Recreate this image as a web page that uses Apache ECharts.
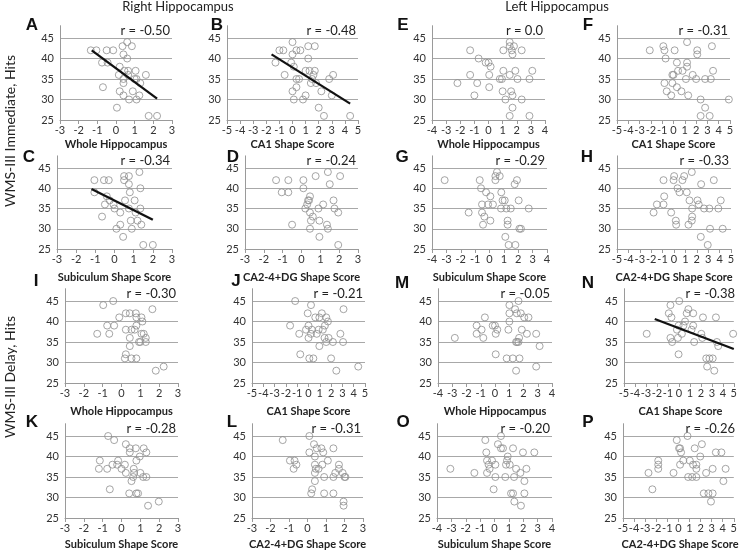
<!DOCTYPE html>
<html>
<head>
<meta charset="utf-8">
<script src="https://cdn.jsdelivr.net/npm/echarts@6/dist/echarts.min.js"></script>
<style>
  html, body { margin: 0; padding: 0; background: #fff; }
  #chart { width: 740px; height: 553px; }
</style>
</head>
<body>
<div id="chart"></div>
<script>
// hit counts vs shape scores, one array per panel
const ptsA = [[-1.35,42],[-1.05,42],[-0.5,42],[-0.15,42],[-0.75,39],[-0.45,39],[-0.7,33],[0.35,43],[0.6,44],[0.85,43],[0.4,41],[0.6,40],[0.2,38],[0.45,37],[0.65,37],[1.05,37],[0.15,36],[0.65,36],[1.6,36],[0.4,35],[1.0,35],[1.1,35],[0.4,34],[1.3,34],[0.2,32],[0.9,32],[0.4,31],[1.25,31],[0.7,30],[1.1,30],[0.05,28],[1.75,26],[2.2,26]];
const ptsB = [[-1.3,39],[-1.0,42],[-0.7,42],[-0.6,36],[0.0,44],[0.0,41],[-0.1,39],[0.1,38],[0.3,42],[0.6,42],[0.3,35],[0.5,35],[0.0,32],[0.3,33],[0.1,30],[0.8,30],[1.0,31],[1.2,40],[1.2,43],[1.7,43],[1.0,37],[1.3,37],[1.7,37],[1.6,36],[1.5,35],[1.4,34],[1.8,34],[2.2,32],[2.0,28],[2.4,26],[2.8,35],[3.1,36],[3.0,31],[4.4,26]];
const ptsC = [[-1.05,42],[-1.05,39],[-0.55,42],[-0.3,42],[-0.65,33],[-0.5,36],[-0.4,38],[-0.25,37],[-0.05,36],[0.0,35],[0.1,30],[0.3,31],[0.3,34],[0.5,43],[0.5,42],[0.75,43],[0.75,41],[0.8,39],[0.55,37],[0.75,35],[0.85,32],[0.9,30],[0.45,28],[1.05,37],[1.2,32],[1.3,44],[1.35,40],[1.35,35],[1.4,31],[1.1,34],[1.5,26],[2.0,26]];
const ptsD = [[-1.35,42],[-0.7,42],[-1.05,39],[-0.7,39],[0.1,42],[0.1,40],[-0.5,31],[0.45,38],[0.4,37],[0.35,37],[0.3,36],[0.2,35],[0.45,34],[0.6,33],[0.5,32],[0.45,30],[0.75,43],[0.9,35],[0.95,32],[0.95,28],[1.15,36],[1.4,44],[1.5,41],[1.35,31],[1.4,30],[1.7,37],[1.75,35],[1.95,34],[2.05,43],[1.95,26]];
const ptsE = [[-2.2,34],[-1.3,42],[-1.3,36],[-0.7,40],[-0.8,34],[-1.0,31],[-0.2,39],[0.0,39],[0.15,38],[0.05,36],[0.05,33],[1.05,42],[1.05,37],[1.0,32],[1.5,44],[1.5,43],[1.8,43],[1.65,42],[1.7,41],[2.35,42],[0.8,35],[0.95,35],[1.5,36],[1.9,37],[2.05,35],[1.6,32],[1.7,31],[1.2,30],[1.7,28],[1.5,26],[2.35,30],[2.9,35],[3.1,37],[2.9,26]];
const ptsF = [[-2.1,42],[-0.9,43],[-0.8,42],[-0.7,40],[0.1,42],[-0.8,34],[-0.6,32],[-0.2,31],[-0.1,34],[0.0,36],[0.3,33],[0.3,39],[0.4,37],[0.8,37],[0.7,32],[1.2,39],[1.2,38],[1.1,35],[1.2,44],[1.3,31],[1.7,36],[2.0,35],[2.1,42],[2.1,41],[2.4,30],[2.8,28],[2.4,26],[3.2,26],[2.8,35],[3.3,35],[3.4,43],[3.5,37],[4.9,30],[-0.1,36]];
const ptsG = [[-3.12,42],[-0.68,42],[-0.59,40],[-0.24,39],[0.06,38],[-0.52,36],[-0.1,36],[0.24,36],[-1.45,34],[-0.52,34],[-0.36,33],[-0.45,31],[0.06,32],[0.52,44],[0.41,43],[0.71,43],[0.41,42],[0.82,39],[0.91,37],[1.06,37],[0.8,35],[1.17,35],[1.48,35],[1.26,32],[1.26,31],[1.1,28],[1.33,26],[1.8,26],[1.75,41],[1.91,42],[2.03,37],[2.08,30],[2.19,30],[2.73,35]];
const ptsH = [[-1.79,34],[-1.5,36],[-0.92,42],[-0.86,38],[-0.92,36],[-0.25,34],[0.01,43],[-0.04,42],[0.16,32],[0.19,31],[0.31,40],[0.48,39],[0.74,42],[0.89,43],[1.12,39],[1.27,31],[1.36,37],[1.56,44],[1.59,35],[1.59,33],[1.56,32],[2.06,37],[2.17,36],[2.38,41],[2.35,28],[2.64,35],[3.1,35],[3.16,30],[2.96,26],[3.49,42],[3.89,35],[4.1,37],[4.27,30]];
const ptsI = [[-1.29,37],[-0.97,44],[-0.44,45],[-0.76,39],[-0.65,37],[-0.39,39],[-0.12,41],[0.23,42],[0.44,42],[0.23,38],[0.53,38],[0.76,42],[0.79,41],[0.79,39],[0.7,38],[0.44,36],[0.44,34],[0.23,32],[0.18,31],[0.53,31],[0.79,31],[1.06,41],[1.11,40],[1.06,37],[1.18,37],[1.29,36],[1.29,35],[0.93,35],[1.0,35],[1.64,43],[1.82,28],[2.24,29]];
const ptsJ = [[-1.18,45],[0.22,44],[-0.07,42],[1.18,42],[0.6,41],[0.96,41],[1.57,41],[-1.63,39],[0.0,39],[-0.22,38],[0.3,38],[0.9,38],[1.27,38],[1.72,40],[1.45,39],[-0.82,37],[0.22,37],[0.73,37],[0.0,36],[1.42,36],[1.78,36],[1.57,35],[2.16,35],[0.96,34],[-0.73,32],[0.07,31],[0.43,31],[2.0,31],[2.82,37],[3.06,35],[3.1,43],[2.46,28],[4.4,29]];
const ptsK = [[-0.71,45],[-0.39,44],[0.23,43],[0.44,42],[0.44,41],[0.76,42],[1.18,42],[1.32,41],[0.97,40],[0.79,39],[-1.15,39],[-0.18,39],[-0.48,38],[-0.23,38],[0.18,38],[0.0,37],[-1.2,37],[-0.76,37],[0.65,37],[0.67,36],[0.23,36],[1.0,36],[0.62,35],[1.15,35],[1.32,35],[0.53,34],[-0.62,32],[0.41,31],[0.79,31],[0.88,31],[1.41,28],[1.98,29]];
const ptsL = [[0.1,45],[-1.34,44],[0.35,43],[0.5,42],[0.75,42],[1.4,42],[0.1,41],[0.85,41],[0.4,40],[-0.95,39],[-0.7,39],[1.1,39],[-0.6,38],[0.4,38],[0.8,38],[1.7,38],[-0.75,37],[0.45,37],[0.6,37],[1.7,37],[0.4,36],[1.5,36],[1.9,36],[0.9,35],[1.4,35],[2.05,35],[2.0,35],[0.4,34],[0.25,32],[0.2,31],[0.9,31],[1.4,31],[1.95,29],[1.95,28]];
const ptsM = [[1.65,45],[1.01,44],[1.41,43],[1.01,42],[1.53,42],[1.81,42],[-0.71,41],[2.05,41],[2.35,41],[1.01,40],[-1.29,39],[-0.16,39],[0.0,39],[-0.94,38],[0.16,38],[0.94,38],[1.88,38],[-1.29,37],[0.05,37],[2.24,37],[2.89,37],[-0.82,36],[1.69,36],[-2.82,36],[1.48,35],[1.65,35],[1.55,35],[3.13,34],[0.05,32],[0.82,31],[1.25,31],[1.72,31],[2.89,29],[1.48,28]];
const ptsN = [[0.03,45],[-0.77,44],[0.86,43],[-0.92,42],[0.71,42],[1.3,42],[-0.68,41],[2.19,41],[3.37,41],[0.56,40],[-0.03,39],[0.41,39],[1.3,39],[-0.18,38],[1.15,38],[-2.93,37],[0.27,37],[2.04,37],[4.94,37],[-0.77,36],[-0.09,36],[2.13,36],[-0.62,35],[1.39,35],[3.46,35],[3.58,34],[-0.03,32],[2.49,31],[2.78,31],[3.08,31],[2.57,29],[3.22,28]];
const ptsO = [[0.45,45],[-0.64,44],[0.24,43],[0.45,42],[0.59,42],[1.29,42],[-0.57,41],[1.98,41],[2.77,41],[0.92,40],[-0.52,39],[-0.17,39],[0.87,39],[-0.41,38],[0.06,38],[0.8,38],[1.06,38],[-3.07,37],[-0.34,37],[1.5,37],[2.22,37],[-1.4,36],[-0.52,36],[1.8,36],[0.06,35],[0.75,35],[1.36,35],[2.08,34],[-0.06,32],[1.15,31],[1.29,31],[2.08,31],[1.38,29],[1.84,28]];
const ptsP = [[0.82,45],[-0.15,44],[2.12,43],[0.06,42],[0.15,42],[1.47,42],[0.24,41],[3.38,41],[3.88,41],[1.97,40],[-1.82,39],[0.44,39],[1.03,39],[-1.82,38],[0.15,38],[1.32,38],[1.62,38],[-1.82,37],[1.62,37],[3.09,37],[4.26,37],[-2.7,36],[-0.44,36],[2.5,36],[0.88,35],[1.24,35],[1.62,35],[4.06,34],[-2.35,32],[2.29,31],[2.71,31],[3.09,31],[2.94,29]];

// fitted lines (endpoints)
const fitA = [[-1.3,42],[2.2,30.2]];
const fitB = [[-1.6,41],[4.4,29]];
const fitC = [[-1.2,39.8],[2.0,32.2]];
const fitN = [[-2.2,40.6],[5.0,33.3]];

const panelIds = ['A','B','E','F','C','D','G','H','I','J','M','N','K','L','O','P'];
const points = {A:ptsA,B:ptsB,C:ptsC,D:ptsD,E:ptsE,F:ptsF,G:ptsG,H:ptsH,I:ptsI,J:ptsJ,K:ptsK,L:ptsL,M:ptsM,N:ptsN,O:ptsO,P:ptsP};
const fits = {A:fitA,B:fitB,C:fitC,N:fitN};
const rLabels = {A:'r = -0.50',B:'r = -0.48',E:'r = 0.0',F:'r = -0.31',C:'r = -0.34',D:'r = -0.24',G:'r = -0.29',H:'r = -0.33',
  I:'r = -0.30',J:'r = -0.21',M:'r = -0.05',N:'r = -0.38',K:'r = -0.28',L:'r = -0.31',O:'r = -0.20',P:'r = -0.26'};
const xNames = {A:'Whole Hippocampus',B:'CA1 Shape Score',C:'Subiculum Shape Score',D:'CA2-4+DG Shape Score',
  E:'Whole Hippocampus',F:'CA1 Shape Score',G:'Subiculum Shape Score',H:'CA2-4+DG Shape Score',
  I:'Whole Hippocampus',J:'CA1 Shape Score',K:'Subiculum Shape Score',L:'CA2-4+DG Shape Score',
  M:'Whole Hippocampus',N:'CA1 Shape Score',O:'Subiculum Shape Score',P:'CA2-4+DG Shape Score'};
const xRange = {A:[-3,3],B:[-5,5],C:[-3,3],D:[-3,3],E:[-4,4],F:[-5,5],G:[-4,4],H:[-5,5],
  I:[-3,3],J:[-5,5],K:[-3,3],L:[-3,3],M:[-4,4],N:[-5,5],O:[-4,4],P:[-5,5]};
const yMin = 25, yMax = 48, yStep = 5;

// plot boxes: [x left, x right, y of 45 line, y of 25 line, letter x, letter y, name y]
const layout = {
  A:[60,172,38,120,32,25,144], B:[227,358,38,120,217,25,144], E:[432,545,38,120,403,25,144], F:[617,730,38,120,588,25,144],
  C:[57,172,168,249,29,157,277], D:[245,358,168,249,233,157,277], G:[432,547,168,249,402,157,277], H:[617,731,168,249,587,157,277],
  I:[65,178,301,383,36,281,411], J:[252,365,301,383,236,281,411], M:[438,552,301,383,402,283,411], N:[624,737,301,383,588,283,411],
  K:[65,178,436,518,32,422,544], L:[252,363,436,518,232,422,544], O:[437,552,436,518,403,422,544], P:[623,737,436,518,588,422,544]
};

const FONT = 'Lato, "Open Sans", sans-serif';
const grids = [], xAxes = [], yAxes = [], series = [], graphics = [];

panelIds.forEach((id, i) => {
  const [x0, x1, y45, y25, lx, ly, ny] = layout[id];
  const pxPerUnit = (y25 - y45) / 20;
  const top = y45 - (yMax - 45) * pxPerUnit;
  grids.push({ left: x0, top: top, width: x1 - x0, height: y25 - top });
  xAxes.push({
    type: 'value', gridIndex: i, min: xRange[id][0], max: xRange[id][1], interval: 1,
    axisLine: { onZero: false, lineStyle: { color: '#9a9a9a', width: 1 } },
    axisTick: { show: true, length: 4, lineStyle: { color: '#9a9a9a' } },
    axisLabel: { fontSize: 11, color: '#333', margin: 5, fontFamily: FONT },
    splitLine: { show: false }
  });
  yAxes.push({
    type: 'value', gridIndex: i, min: yMin, max: yMax, interval: yStep,
    axisLine: { show: true, onZero: false, lineStyle: { color: '#9a9a9a', width: 1 } },
    axisTick: { show: false },
    axisLabel: { fontSize: 11, color: '#333', margin: 6, fontFamily: FONT,
      formatter: v => (v % 5 === 0 ? String(v) : '') },
    splitLine: { show: true, showMinLine: false, showMaxLine: false, lineStyle: { color: '#a8a8a8', width: 1 } }
  });
  series.push({
    type: 'scatter', xAxisIndex: i, yAxisIndex: i, data: points[id],
    symbol: 'circle', symbolSize: 7,
    itemStyle: { color: 'rgba(255,255,255,0)', borderColor: '#8f8f8f', borderWidth: 1 },
    emphasis: { disabled: true }, silent: true
  });
  if (fits[id]) {
    series.push({
      type: 'line', xAxisIndex: i, yAxisIndex: i, data: fits[id], symbol: 'none',
      lineStyle: { color: '#111', width: 2.3 }, z: 5, silent: true
    });
  }
  graphics.push({ type: 'text', x: lx, y: ly, style: { text: id, align: 'center', verticalAlign: 'middle',
    font: 'bold 17px "Liberation Sans", Arial, sans-serif', fill: '#111' } });
  graphics.push({ type: 'text', x: x1 - 2, y: y45 - 7, style: { text: rLabels[id], align: 'right', verticalAlign: 'middle',
    font: '13px ' + FONT, fill: '#222' } });
  graphics.push({ type: 'text', x: (x0 + x1) / 2, y: ny, style: { text: xNames[id], align: 'center', verticalAlign: 'middle',
    font: 'bold 11px ' + FONT, fill: '#222' } });
});

graphics.push({ type: 'text', x: 178, y: 7, style: { text: 'Right Hippocampus', align: 'center', verticalAlign: 'middle', font: '13px ' + FONT, fill: '#222' } });
graphics.push({ type: 'text', x: 557, y: 7, style: { text: 'Left Hippocampus', align: 'center', verticalAlign: 'middle', font: '13px ' + FONT, fill: '#222' } });
graphics.push({ type: 'text', x: 10, y: 131, rotation: Math.PI / 2, style: { text: 'WMS-III Immediate, Hits', align: 'center', verticalAlign: 'middle', font: '14px ' + FONT, fill: '#222' } });
graphics.push({ type: 'text', x: 10, y: 377, rotation: Math.PI / 2, style: { text: 'WMS-III Delay, Hits', align: 'center', verticalAlign: 'middle', font: '14px ' + FONT, fill: '#222' } });

const chart = echarts.init(document.getElementById('chart'), null, { renderer: 'canvas' });
chart.setOption({
  animation: false,
  backgroundColor: '#fff',
  grid: grids,
  xAxis: xAxes,
  yAxis: yAxes,
  series: series,
  graphic: graphics
});
</script>
</body>
</html>
